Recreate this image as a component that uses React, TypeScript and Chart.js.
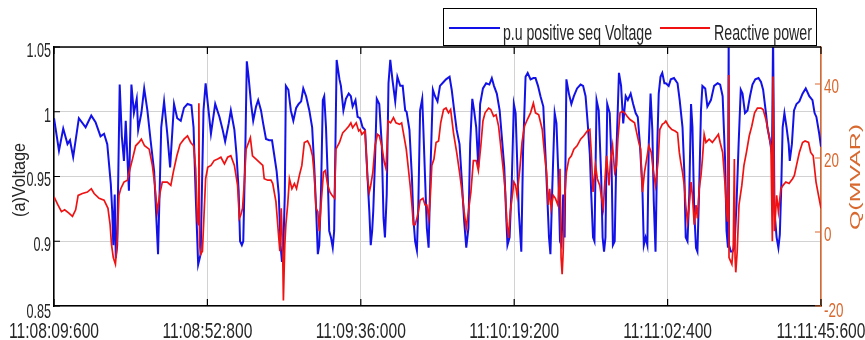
import React, { useEffect, useRef } from 'react';
import { Chart, registerables } from 'chart.js';

Chart.register(...registerables);

// ---- axis ticks ----
const xTickSeconds = [0, 43.2, 86.4, 129.6, 172.8, 216];
const xTickLabels = ['11:08:09:600', '11:08:52:800', '11:09:36:000', '11:10:19:200', '11:11:02:400', '11:11:45:600'];
const voltTicks = [0.85, 0.9, 0.95, 1, 1.05];
const voltTickLabels = ['0.85', '0.9', '0.95', '1', '1.05'];
const qTicks = [-20, 0, 20, 40];
const qTickLabels = ['-20', '0', '20', '40'];

// ---- series: seconds after 11:08:09.600 ----
const voltTime = [
  0.0, 1.4, 2.6, 3.8, 4.5, 5.4, 7.0, 8.9, 10.5, 11.7, 13.1, 14.1, 15.0, 16.0, 16.4, 16.7, 17.1, 17.4, 17.8, 18.5, 19.1, 19.7, 20.2, 21.1, 21.8, 22.5, 23.3, 23.7, 24.6, 25.4, 26.3, 27.2, 28.2, 29.3, 30.2, 31.0, 31.9, 32.7, 33.8, 34.7, 35.7, 36.6, 37.6, 38.7, 39.3, 39.9, 40.6, 41.3, 42.1, 42.7,
  43.6, 44.2, 45.4, 46.6, 47.5, 48.2, 49.2, 49.8, 50.8, 51.4, 52.0, 52.4, 52.9, 53.3, 53.9, 54.3, 54.8, 55.5, 56.1, 56.9, 57.5, 58.3, 58.9, 59.7, 60.6, 61.4, 62.0, 62.7, 63.3, 63.8, 64.2, 64.6, 65.0, 65.3, 66.0, 66.7, 67.4, 68.2, 68.9, 69.6, 70.2, 71.0, 71.9, 72.7, 73.3, 73.8, 74.3, 74.7, 75.2, 75.7, 76.1, 76.6, 77.1, 77.5, 78.0, 78.5, 78.9, 79.6, 80.4, 80.8, 81.5, 82.2, 83.0, 83.6, 84.1, 84.9, 85.5,
  86.2, 86.9, 87.6, 88.3, 88.8, 89.2, 89.6, 89.9, 90.4, 90.9, 91.6, 92.3, 92.8, 93.2, 93.7, 94.2, 94.7, 95.3, 96.1, 96.7, 97.5, 98.2, 98.9, 99.3, 100.1, 100.8, 101.2, 101.7, 102.2, 102.6, 103.1, 103.7, 104.0, 104.5, 105.0, 105.5, 106.1, 106.7, 107.3, 108.0, 108.7, 109.7, 110.4, 111.4, 112.0, 112.7, 113.4, 114.2, 114.8, 115.5, 116.1, 116.7, 117.2, 117.8, 118.3, 118.9, 119.5, 120.0, 120.8, 121.7, 122.6, 123.3, 123.9, 124.7, 125.5, 126.1, 126.8, 127.3, 127.7, 128.3, 128.9,
  129.5, 130.0, 130.4, 130.9, 131.6, 132.1, 132.8, 133.4, 134.2, 135.0, 135.6, 136.3, 137.0, 137.8, 138.4, 138.9, 139.4, 139.8, 140.3, 141.0, 141.5, 142.0, 142.5, 142.9, 143.4, 143.8, 144.3, 145.0, 145.7, 146.4, 147.3, 148.3, 149.0, 149.7, 150.3, 150.9, 151.3, 151.8, 152.2, 152.8, 153.4, 154.1, 154.5, 154.9, 155.3, 155.8, 156.5, 157.0, 157.4, 157.9, 158.4, 159.1, 159.7, 160.3, 161.0, 161.6, 162.4, 163.1, 163.8, 164.4, 165.0, 165.7, 166.1, 166.6, 167.1, 167.5, 168.0, 168.5, 168.9, 169.4, 169.9, 170.3, 170.8, 171.3, 171.9,
  172.3, 173.1, 173.7, 174.6, 175.6, 176.2, 177.0, 177.5, 177.9, 178.4, 178.9, 179.4, 179.8, 180.3, 180.8, 181.2, 181.7, 182.2, 182.6, 183.4, 184.0, 185.0, 185.9, 186.9, 187.6, 188.3, 189.0, 189.4, 189.8, 190.0, 190.1, 190.6, 191.1, 191.6, 192.2, 192.8, 193.4, 193.9, 194.6, 195.3, 196.0, 196.7, 197.5, 198.4, 199.1, 199.7, 200.5, 200.9, 201.6, 202.2, 202.5, 202.9, 203.5, 204.0, 204.4, 204.8, 205.2, 205.7, 206.3, 206.9, 207.2, 207.8, 208.4, 209.1, 209.9, 210.8, 211.7, 212.7, 213.6, 214.2, 214.7, 215.5, 216.0,
];
const voltage = [
  0.995, 0.970, 0.987, 0.975, 0.978, 0.965, 0.995, 0.988, 0.997, 0.992, 0.981, 0.983, 0.975, 0.944, 0.923, 0.897, 0.936, 0.887, 0.897, 1.021, 0.981, 0.962, 0.993, 0.939, 1.021, 0.999, 1.010, 0.986, 0.999, 1.018, 1.001, 0.978, 0.954, 0.890, 0.988, 1.008, 0.983, 0.957, 1.006, 0.995, 0.993, 1.003, 1.006, 1.005, 0.988, 0.936, 0.882, 0.890, 1.001, 1.022,
  0.999, 0.983, 1.006, 0.996, 0.986, 0.977, 0.991, 1.001, 0.986, 0.967, 0.939, 0.900, 0.897, 0.900, 0.975, 1.039, 1.027, 1.006, 0.993, 1.004, 1.009, 1.001, 0.991, 0.979, 0.978, 0.978, 0.967, 0.954, 0.936, 0.897, 0.884, 0.897, 0.936, 1.020, 1.017, 1.001, 0.993, 1.003, 1.006, 1.008, 1.018, 1.012, 1.001, 0.988, 0.957, 0.926, 0.890, 0.897, 0.939, 1.009, 1.012, 0.988, 0.949, 0.908, 0.903, 0.895, 0.908, 1.040, 1.025, 1.020, 1.001, 1.010, 1.014, 1.012, 1.004, 1.009, 0.996,
  0.995, 0.988, 0.986, 0.949, 0.923, 0.897, 0.908, 0.923, 0.962, 1.010, 1.006, 0.975, 0.918, 0.903, 0.936, 1.022, 1.040, 1.025, 1.008, 1.027, 1.020, 1.020, 1.001, 1.000, 0.986, 0.949, 0.918, 0.900, 0.893, 0.928, 1.001, 1.010, 0.988, 0.949, 0.910, 0.895, 0.962, 1.017, 1.012, 1.008, 1.020, 1.023, 1.025, 1.027, 1.017, 1.001, 0.986, 0.975, 0.949, 0.916, 0.895, 0.910, 0.975, 1.010, 1.001, 0.988, 0.957, 1.006, 1.018, 1.022, 1.021, 1.026, 1.020, 1.014, 1.001, 0.981, 0.957, 0.923, 0.897, 0.903, 0.944,
  1.006, 0.999, 0.965, 0.923, 0.892, 0.970, 1.027, 1.030, 1.025, 1.026, 1.026, 1.020, 1.012, 1.004, 0.967, 0.936, 0.903, 0.890, 0.939, 0.999, 0.991, 0.954, 0.900, 0.897, 0.936, 0.903, 1.025, 1.014, 1.006, 1.012, 1.018, 1.021, 1.020, 1.012, 0.991, 0.967, 0.936, 0.903, 0.900, 1.009, 1.001, 0.949, 0.903, 0.892, 0.903, 1.006, 0.999, 0.962, 0.897, 0.900, 0.970, 1.030, 1.020, 0.991, 1.012, 1.009, 1.014, 1.006, 0.999, 0.996, 0.975, 0.941, 0.897, 0.903, 0.897, 0.975, 1.014, 0.986, 0.931, 0.892, 0.975, 1.014, 1.027, 1.030, 1.022,
  1.022, 1.020, 1.025, 1.026, 1.022, 1.009, 0.988, 0.954, 0.903, 0.900, 0.936, 1.006, 0.988, 0.923, 0.895, 0.892, 0.941, 1.001, 1.020, 1.018, 1.004, 1.009, 1.020, 1.022, 1.021, 1.012, 0.962, 0.908, 0.895, 1.060, 0.897, 0.892, 0.892, 0.895, 0.928, 0.975, 1.017, 1.014, 0.999, 1.001, 1.012, 1.021, 1.025, 1.026, 1.023, 1.017, 0.999, 0.988, 0.978, 0.967, 1.060, 0.923, 0.903, 0.895, 0.905, 0.941, 0.988, 0.999, 0.988, 0.975, 0.962, 0.975, 1.001, 1.006, 1.008, 1.014, 1.018, 1.012, 1.009, 0.999, 0.996, 0.983, 0.973,
];

const reactTime = [
  0.0, 1.1, 2.1, 3.0, 4.2, 5.2, 6.1, 6.8, 8.0, 9.4, 10.5, 11.3, 12.7, 14.1, 15.2, 15.8, 16.2, 16.7, 17.3, 17.8, 18.3, 18.8, 19.7, 20.7, 21.4, 22.1, 23.0, 23.9, 24.6, 25.5, 26.8, 27.7, 28.4, 29.1, 29.9, 30.5, 31.9, 32.9, 33.6, 34.6, 35.5, 36.6, 37.6, 38.5, 39.3, 39.9, 40.4, 40.7, 40.8, 41.0, 41.3, 41.8, 42.7,
  43.3, 44.2, 45.1, 46.1, 47.0, 48.0, 48.9, 49.8, 50.8, 51.7, 52.2, 52.6, 53.1, 53.6, 54.1, 54.8, 55.3, 55.9, 56.9, 57.8, 58.8, 59.2, 60.2, 61.1, 61.6, 62.5, 63.3, 63.6, 64.0, 64.4, 64.6, 65.0, 65.3, 65.8, 66.3, 67.0, 67.7, 68.3, 69.1, 69.8, 70.5, 71.4, 72.1, 72.8, 73.3, 73.8, 74.3, 74.7, 75.2, 75.9, 76.4, 77.1, 77.7, 78.3, 79.0, 79.4, 80.4, 81.3, 82.2, 83.0, 83.6, 84.1, 85.1, 85.8,
  86.2, 86.7, 87.6, 88.3, 88.8, 89.2, 89.8, 90.4, 91.1, 91.6, 92.3, 93.0, 93.5, 94.1, 94.8, 95.6, 96.3, 97.3, 97.9, 98.4, 99.2, 99.8, 100.3, 100.8, 101.2, 101.7, 102.2, 102.6, 103.1, 103.9, 104.5, 105.0, 105.5, 105.9, 106.4, 107.0, 107.6, 108.3, 108.9, 109.7, 110.4, 111.1, 111.7, 112.5, 113.4, 114.2, 114.8, 115.5, 116.1, 116.7, 117.4, 118.1, 118.9, 119.5, 120.2, 120.8, 121.4, 122.4, 123.0, 123.8, 124.5, 125.2, 125.8, 126.6, 127.1, 127.5, 128.0, 128.5, 129.2,
  129.5, 130.0, 130.4, 131.2, 131.8, 132.5, 133.3, 134.2, 135.0, 135.6, 136.5, 137.5, 138.1, 138.7, 139.2, 139.6, 140.0, 140.6, 141.2, 141.9, 142.5, 142.8, 143.1, 143.4, 143.8, 144.3, 145.0, 145.7, 146.4, 147.3, 148.3, 149.2, 150.2, 150.9, 151.3, 151.8, 152.5, 153.0, 153.7, 154.1, 154.7, 155.0, 155.6, 156.3, 156.7, 157.3, 157.9, 158.4, 158.8, 159.4, 160.0, 160.7, 161.4, 162.2, 162.8, 163.5, 164.1, 164.7, 165.2, 165.7, 166.3, 166.9, 167.5, 168.2, 168.7, 169.4, 170.1, 170.6, 171.3, 171.9,
  172.3, 173.1, 174.0, 174.9, 175.6, 176.1, 176.5, 177.0, 177.5, 177.9, 178.4, 178.9, 179.4, 179.8, 180.3, 180.8, 181.2, 181.7, 182.2, 182.6, 183.1, 183.6, 184.5, 185.4, 186.4, 187.1, 187.6, 188.3, 189.0, 189.4, 189.7, 190.0, 190.1, 190.9, 191.3, 191.6, 191.8, 192.0, 192.4, 192.9, 193.7, 194.3, 195.0, 195.8, 196.5, 197.3, 198.1, 199.1, 199.7, 200.5, 201.2, 201.9, 202.3, 202.5, 202.9, 203.5, 204.0, 204.7, 205.3, 206.1, 207.0, 208.0, 208.5, 209.1, 209.9, 210.8, 211.5, 212.5, 213.1, 213.8, 214.6, 215.3, 216.0,
];
const reactivePower = [
  9.5, 7.3, 5.5, 6.0, 5.1, 4.2, 6.0, 9.9, 10.4, 10.8, 11.7, 10.4, 9.1, 8.6, 6.4, 2.0, -3.4, -6.9, -8.7, -2.5, 9.9, 11.7, 13.5, 14.0, 17.1, 19.7, 23.3, 24.2, 25.1, 23.3, 22.4, 18.0, 12.6, 5.5, 10.8, 13.5, 13.5, 12.6, 16.2, 20.6, 23.7, 25.1, 26.0, 24.2, 23.3, 17.1, 2.8, 2.0, 34.8, -3.4, -6.0, -5.2, 14.4,
  17.5, 18.0, 19.3, 19.7, 20.2, 18.4, 20.2, 20.6, 18.0, 12.6, 3.7, 4.6, 6.4, 13.5, 22.4, 24.2, 25.5, 20.6, 19.7, 18.9, 18.0, 14.4, 14.0, 14.0, 13.1, 8.2, -1.6, -5.2, 6.4, -5.2, -18.5, -3.4, 2.0, 7.3, 14.4, 11.7, 13.1, 11.7, 15.3, 18.0, 24.2, 24.6, 23.3, 20.6, 15.3, 6.4, 5.5, 0.2, 7.3, 16.2, 16.6, 12.6, 10.8, 9.9, 9.1, 22.4, 24.2, 26.8, 27.7, 28.6, 29.5, 28.2, 29.5, 27.3,
  27.7, 26.4, 27.3, 14.4, 10.8, 12.6, 16.2, 23.3, 26.4, 26.0, 23.3, 18.9, 17.1, 30.0, 29.5, 30.9, 29.5, 29.1, 29.5, 26.8, 22.4, 17.1, 12.6, 7.3, 2.0, 2.0, 3.7, 5.5, 8.6, 9.1, 7.3, 7.3, 3.7, 8.2, 18.0, 19.7, 24.2, 24.6, 29.5, 33.1, 33.5, 32.2, 33.1, 26.8, 21.5, 16.2, 11.7, 5.5, 1.1, 5.5, 10.8, 19.3, 19.3, 16.6, 23.3, 30.0, 32.2, 33.5, 33.1, 31.3, 31.7, 28.6, 23.3, 16.2, 10.8, 2.8, -1.6, 5.5, 10.8,
  13.5, 12.6, 9.9, 17.1, 24.2, 28.6, 30.4, 32.2, 34.8, 32.2, 31.7, 27.7, 21.5, 16.2, 7.3, 11.7, 6.4, 9.9, 9.1, 7.3, 17.1, -6.9, -11.4, -5.2, 9.1, 16.2, 19.7, 20.6, 22.4, 23.3, 25.1, 26.0, 27.3, 27.7, 21.5, 10.8, 18.0, 14.4, 12.6, 9.9, 6.4, 11.7, 20.6, 12.6, 18.9, 23.3, 16.2, 18.0, 25.1, 32.2, 32.6, 32.2, 31.3, 30.4, 30.0, 29.5, 26.8, 24.2, 22.4, 10.8, 16.2, 19.7, 23.3, 21.5, 17.1, 12.6, 18.9, 27.7, 29.1, 29.5,
  30.0, 28.6, 27.7, 27.3, 26.8, 21.5, 18.9, 16.2, 12.6, 7.3, 2.8, 7.3, 13.5, 9.9, 2.0, 7.3, 3.7, 11.7, 15.3, 19.7, 26.4, 24.2, 25.1, 24.2, 25.5, 26.4, 24.2, 21.5, 12.6, 5.5, 2.8, 42.4, -6.9, -8.7, -3.4, 19.7, -6.9, -10.9, -5.2, 7.3, 12.6, 18.0, 21.5, 26.0, 28.6, 32.2, 33.5, 33.5, 33.1, 30.4, 26.8, 23.3, -2.5, 42.0, 0.2, 9.9, 5.5, 11.7, 12.6, 13.5, 13.1, 14.4, 15.3, 18.0, 21.5, 24.2, 24.6, 24.2, 21.5, 20.6, 13.5, 9.9, 6.4,
];

const seriesNames = ['p.u positive seq Voltage', 'Reactive power'];
const axisTitles = ['(a)Voltage', 'Q(MVAR)'];

// ---- styles ----
const BLUE = '#1212e8';
const RED = '#f01212';
const ORANGE = '#d9682e';
const TEXT = '#262626';
const GRID = '#d2d2d2';
const SANS = '"Liberation Sans", Arial, sans-serif';

function zip(ts: number[], vs: number[]) {
  const n = Math.min(ts.length, vs.length);
  const out: { x: number; y: number }[] = [];
  for (let i = 0; i < n; i++) out.push({ x: ts[i], y: vs[i] });
  return out;
}

// text drawn with a horizontal squeeze (the reference font is condensed)
function drawText(
  ctx: CanvasRenderingContext2D,
  text: string,
  x: number,
  y: number,
  size: number,
  sx: number,
  color: string,
  align: CanvasTextAlign,
  baseline: CanvasTextBaseline,
  rotate = false,
) {
  ctx.save();
  ctx.font = `${size}px ${SANS}`;
  ctx.translate(x, y);
  if (rotate) ctx.rotate(-Math.PI / 2);
  ctx.scale(sx, 1);
  ctx.fillStyle = color;
  ctx.textAlign = align;
  ctx.textBaseline = baseline;
  ctx.fillText(text, 0, 0);
  ctx.restore();
}

function fitScale(ctx: CanvasRenderingContext2D, text: string, size: number, width: number) {
  ctx.save();
  ctx.font = `${size}px ${SANS}`;
  const w = ctx.measureText(text).width;
  ctx.restore();
  return width / w;
}

const decorPlugin = {
  id: 'decor',
  afterDraw(chart: any) {
    const ctx: CanvasRenderingContext2D = chart.ctx;
    const { left, right, top, bottom } = chart.chartArea;
    const xs = chart.scales.x;
    const ys = chart.scales.y;
    const ys1 = chart.scales.y1;
    ctx.save();
    ctx.strokeStyle = '#000';
    ctx.lineWidth = 1.5;
    ctx.beginPath();
    ctx.moveTo(left, top);
    ctx.lineTo(right, top);
    ctx.stroke();

    // inward tick marks
    ctx.lineWidth = 1.2;
    ctx.beginPath();
    for (const v of voltTicks) {
      const py = ys.getPixelForValue(v);
      ctx.moveTo(left, py);
      ctx.lineTo(left + 6, py);
    }
    for (const s of xTickSeconds) {
      const px = xs.getPixelForValue(s);
      ctx.moveTo(px, bottom);
      ctx.lineTo(px, bottom - 7);
      ctx.moveTo(px, top);
      ctx.lineTo(px, top + 7);
    }
    ctx.stroke();
    ctx.strokeStyle = ORANGE;
    ctx.beginPath();
    for (const q of qTicks) {
      const py = ys1.getPixelForValue(q);
      ctx.moveTo(right, py);
      ctx.lineTo(right - 6, py);
    }
    ctx.stroke();

    // tick labels
    xTickSeconds.forEach((s, i) => {
      drawText(ctx, xTickLabels[i], xs.getPixelForValue(s), 338, 22, 0.71, TEXT, 'center', 'alphabetic');
    });
    voltTicks.forEach((v, i) => {
      const off = i === 0 ? 6 : 4;
      drawText(ctx, voltTickLabels[i], left - 3, ys.getPixelForValue(v) + off, 21, 0.6, TEXT, 'right', 'middle');
    });
    qTicks.forEach((q, i) => {
      const off = i === 0 ? 5 : 3;
      drawText(ctx, qTickLabels[i], right + 3, ys1.getPixelForValue(q) + off, 21, 0.64, ORANGE, 'left', 'middle');
    });

    // axis titles
    drawText(ctx, axisTitles[0], 19.5, 180, 19, fitScale(ctx, axisTitles[0], 19, 74), TEXT, 'center', 'middle', true);
    drawText(ctx, axisTitles[1], 856, 177, 15, fitScale(ctx, axisTitles[1], 15, 106), ORANGE, 'center', 'middle', true);

    // legend box
    ctx.fillStyle = '#fff';
    ctx.fillRect(443.5, 8.5, 373, 37);
    ctx.strokeStyle = '#000';
    ctx.lineWidth = 1;
    ctx.strokeRect(443.5, 8.5, 373, 37);
    ctx.lineWidth = 2;
    ctx.strokeStyle = BLUE;
    ctx.beginPath();
    ctx.moveTo(449, 28);
    ctx.lineTo(500, 28);
    ctx.stroke();
    ctx.strokeStyle = RED;
    ctx.beginPath();
    ctx.moveTo(660, 28);
    ctx.lineTo(710, 28);
    ctx.stroke();
    drawText(ctx, seriesNames[0], 503, 40, 22, fitScale(ctx, seriesNames[0], 22, 149), TEXT, 'left', 'alphabetic');
    drawText(ctx, seriesNames[1], 714, 40, 22, fitScale(ctx, seriesNames[1], 22, 98), TEXT, 'left', 'alphabetic');
    ctx.restore();
  },
};

export default function App() {
  const ref = useRef<HTMLCanvasElement | null>(null);
  useEffect(() => {
    document.body.style.margin = '0';
    const canvas = ref.current;
    if (!canvas) return;
    const chart = new Chart(canvas, {
      type: 'line',
      data: {
        datasets: [
          {
            label: seriesNames[0],
            data: zip(voltTime, voltage),
            borderColor: BLUE,
            borderWidth: 2,
            pointRadius: 0,
            tension: 0,
            yAxisID: 'y',
            order: 1,
          },
          {
            label: seriesNames[1],
            data: zip(reactTime, reactivePower),
            borderColor: RED,
            borderWidth: 1.7,
            pointRadius: 0,
            tension: 0,
            yAxisID: 'y1',
            order: 0,
          },
        ],
      },
      options: {
        animation: false,
        responsive: false,
        devicePixelRatio: 1,
        parsing: false as any,
        normalized: true,
        layout: { padding: { top: 47, left: 0, right: 0, bottom: 0 } },
        plugins: { legend: { display: false }, tooltip: { enabled: false } },
        scales: {
          x: {
            type: 'linear',
            min: 0,
            max: 216,
            afterBuildTicks: (s: any) => {
              s.ticks = xTickSeconds.map((v) => ({ value: v }));
            },
            afterFit: (s: any) => {
              s.height = 34;
            },
            ticks: { display: false },
            grid: { color: GRID, lineWidth: 1, drawTicks: false },
            border: { color: '#000', width: 1.5 },
          },
          y: {
            type: 'linear',
            position: 'left',
            min: 0.85,
            max: 1.05,
            afterBuildTicks: (s: any) => {
              s.ticks = voltTicks.map((v) => ({ value: v }));
            },
            afterFit: (s: any) => {
              s.width = 54;
            },
            ticks: { display: false },
            grid: { color: GRID, lineWidth: 1, drawTicks: false },
            border: { color: '#000', width: 1.5 },
          },
          y1: {
            type: 'linear',
            position: 'right',
            min: -20,
            max: 50,
            afterBuildTicks: (s: any) => {
              s.ticks = qTicks.map((v) => ({ value: v }));
            },
            afterFit: (s: any) => {
              s.width = 44;
            },
            ticks: { display: false },
            grid: { display: false, drawTicks: false },
            border: { color: ORANGE, width: 1.5 },
          },
        },
      },
      plugins: [decorPlugin],
    } as any);
    return () => chart.destroy();
  }, []);
  return (
    <div style={{ width: 865, height: 340 }}>
      <canvas ref={ref} width={865} height={340} style={{ display: 'block' }} />
    </div>
  );
}
